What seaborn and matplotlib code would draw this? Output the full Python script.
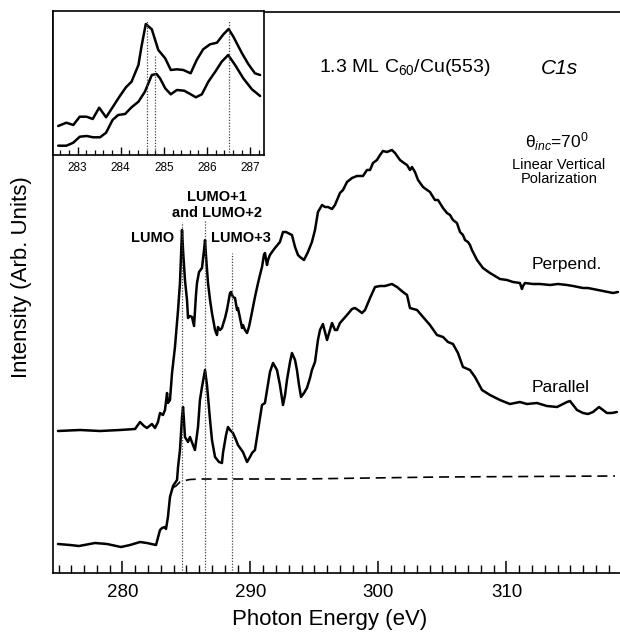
import numpy as np
import pandas as pd
import matplotlib
matplotlib.use("Agg")
import matplotlib.pyplot as plt
from matplotlib.ticker import MultipleLocator
import seaborn as sns

sns.set_theme(style="white", context="paper")
plt.rcParams['font.family'] = ['Liberation Sans', 'DejaVu Sans']
plt.rcParams['mathtext.fontset'] = 'custom'
plt.rcParams['mathtext.rm'] = 'Liberation Sans'
plt.rcParams['mathtext.it'] = 'Liberation Sans:italic'
plt.rcParams['mathtext.bf'] = 'Liberation Sans:bold'
plt.rcParams.update({'text.color': 'black', 'axes.labelcolor': 'black',
                     'xtick.color': 'black', 'ytick.color': 'black'})

# ---- main spectra (photon energy in eV, intensity in arb. units) ----
perp_ev = [274.96, 276.68, 278.24, 279.80, 280.98, 281.37, 281.68, 281.91, 282.30, 282.54,
           282.77, 282.93, 283.16, 283.32, 283.48, 283.55, 283.71, 283.87, 284.10, 284.34,
           284.49, 284.65, 284.73, 284.88, 285.04, 285.12, 285.27, 285.43, 285.59, 285.74,
           285.82, 285.98, 286.21, 286.37, 286.45, 286.52, 286.68, 286.84, 286.99, 287.23,
           287.38, 287.46, 287.62, 287.77, 288.01, 288.16, 288.40, 288.48, 288.63, 288.79,
           288.95, 289.02, 289.18, 289.34, 289.41, 289.57, 289.73, 289.88, 290.12, 290.35,
           290.59, 290.74, 290.90, 291.05, 291.13, 291.29, 291.37, 291.52, 291.68, 291.91,
           292.30, 292.54, 292.77, 293.09, 293.24, 293.48, 293.71, 293.87, 294.18, 294.49,
           294.80, 295.04, 295.27, 295.59, 295.82, 296.05, 296.37, 296.60, 296.99, 297.23,
           297.54, 297.93, 298.32, 298.79, 299.10, 299.34, 299.57, 299.88, 300.12, 300.35,
           300.66, 301.05, 301.29, 301.68, 301.99, 302.23, 302.46, 302.62, 302.85, 303.09,
           303.48, 304.02, 304.41, 304.65, 304.80, 305.04, 305.35, 305.59, 305.82, 306.13,
           306.37, 306.60, 306.76, 306.99, 307.15, 307.30, 307.70, 308.16, 308.71, 309.49,
           310.04, 310.51, 311.05, 311.21, 311.29, 311.45, 312.07, 312.62, 313.40, 314.02,
           314.73, 315.20, 315.59, 315.98, 316.37, 316.76, 317.15, 317.54, 317.93, 318.32,
           318.71]
perp_int = [142, 143, 142, 143, 144, 151, 147, 145, 149, 145,
            151, 160, 158, 163, 180, 170, 173, 200, 226, 263,
            290, 343, 323, 293, 273, 255, 257, 256, 247, 278,
            290, 301, 305, 323, 333, 318, 290, 273, 260, 243,
            238, 246, 243, 245, 255, 263, 280, 281, 276, 275,
            263, 265, 255, 245, 248, 243, 240, 246, 261, 276,
            290, 298, 306, 318, 320, 308, 313, 318, 321, 325,
            331, 341, 341, 339, 338, 326, 318, 316, 313, 321,
            331, 343, 361, 368, 366, 366, 364, 368, 380, 383,
            391, 395, 397, 397, 403, 403, 410, 413, 418, 422,
            421, 423, 420, 413, 410, 408, 403, 406, 401, 393,
            386, 381, 373, 373, 370, 365, 360, 358, 353, 350,
            341, 338, 333, 331, 328, 323, 313, 305, 300, 294,
            293, 291, 290, 284, 287, 290, 289, 289, 288, 289,
            288, 287, 286, 285, 285, 284, 283, 282, 281, 280,
            281]

par_ev = [274.96, 275.90, 276.60, 277.85, 278.79, 279.88, 280.59, 281.37, 281.91, 282.62,
          282.93, 283.09, 283.32, 283.40, 283.55, 283.71, 283.95, 284.26, 284.34, 284.49,
          284.65, 284.73, 284.80, 284.88, 285.12, 285.27, 285.51, 285.66, 285.90, 286.05,
          286.21, 286.45, 286.60, 286.84, 286.99, 287.23, 287.54, 287.77, 287.85, 288.09,
          288.24, 288.40, 288.55, 288.63, 288.87, 289.02, 289.41, 289.73, 289.96, 290.12,
          290.35, 290.59, 290.74, 290.90, 291.13, 291.29, 291.52, 291.76, 292.07, 292.30,
          292.54, 292.70, 292.85, 293.09, 293.24, 293.48, 293.63, 293.79, 293.95, 294.18,
          294.41, 294.65, 294.80, 295.04, 295.27, 295.43, 295.66, 295.82, 295.98, 296.21,
          296.37, 296.60, 296.76, 296.99, 297.54, 297.93, 298.16, 298.40, 298.71, 298.95,
          299.34, 299.73, 300.12, 300.51, 301.05, 301.45, 301.91, 302.23, 302.46, 303.01,
          303.48, 304.02, 304.57, 305.04, 305.43, 305.82, 306.21, 306.60, 307.15, 307.54,
          308.09, 308.71, 309.49, 310.27, 311.05, 311.60, 312.38, 313.16, 313.95, 314.41,
          314.73, 314.96, 315.20, 315.51, 315.98, 316.37, 316.76, 317.23, 317.54, 317.85,
          318.24, 318.63]
par_int = [29, 28, 27, 30, 29, 26, 28, 31, 30, 28,
           43, 45, 46, 44, 56, 76, 87, 93, 106, 123,
           156, 166, 153, 136, 131, 136, 128, 123, 146, 173,
           186, 203, 188, 153, 133, 116, 111, 110, 120, 138,
           146, 143, 141, 140, 133, 128, 121, 111, 116, 120,
           123, 143, 155, 168, 170, 183, 201, 210, 203, 188,
           168, 178, 193, 211, 220, 213, 203, 188, 176, 180,
           185, 195, 203, 211, 233, 243, 249, 241, 233, 243,
           250, 243, 243, 250, 258, 264, 265, 263, 260, 263,
           275, 286, 287, 287, 289, 286, 281, 278, 265, 263,
           256, 248, 238, 236, 231, 229, 220, 206, 203, 196,
           183, 178, 173, 169, 171, 169, 170, 167, 166, 169,
           171, 172, 168, 163, 160, 159, 161, 166, 163, 160,
           160, 161]

# step-edge background
bg_ev = [283.90, 284.18, 284.49, 284.88, 285.27, 286.05, 287.62, 293.87, 304.80, 318.48]
bg_int = [85, 87, 91, 92.5, 93.5, 94, 94, 94, 96, 97]

# resonance markers
peak_ev = [284.65, 286.45, 288.58]
peak_top = [351, 353, 320]

# ---- inset (zoom on the LUMO region) ----
in_perp_ev = [282.55, 282.74, 282.90, 283.05, 283.21, 283.35, 283.50, 283.66, 283.83, 283.98,
              284.12, 284.25, 284.41, 284.48, 284.58, 284.72, 284.87, 285.03, 285.16, 285.30,
              285.45, 285.62, 285.76, 285.91, 286.07, 286.23, 286.38, 286.50, 286.61, 286.81,
              286.96, 287.11, 287.23]
in_perp_int = [29, 32.3, 30, 38.3, 38.3, 36, 47.3, 37.7, 49, 59,
               67.7, 73.3, 90, 108.3, 131, 125.7, 105, 96.7, 85, 85.7,
               85, 81.7, 95, 105.7, 110.7, 112.3, 120.7, 126, 118.3, 101.7,
               90.7, 81.7, 80]
in_par_ev = [282.55, 282.74, 282.90, 283.05, 283.21, 283.36, 283.52, 283.66, 283.81, 283.94,
             284.10, 284.25, 284.41, 284.56, 284.72, 284.83, 284.91, 285.03, 285.16, 285.30,
             285.47, 285.61, 285.74, 285.88, 286.03, 286.19, 286.34, 286.49, 286.65, 286.84,
             287.04, 287.23]
in_par_int = [9.3, 9.3, 12.3, 18.3, 19, 17.7, 17.7, 22.3, 35, 40,
              41, 47.7, 53.3, 63.3, 80, 81, 76.7, 66.7, 60.7, 65,
              64.3, 61, 57.7, 60.7, 73.3, 83.3, 93.3, 100, 90, 76.7,
              65.7, 59]
in_peak_ev = [284.62, 284.80, 286.50]
in_peak_top = [134, 99, 134]

W, H = 620, 632
fig = plt.figure(figsize=(W / 100, H / 100), dpi=100)
ax = fig.add_axes([53 / W, 1 - 573 / H, 1 - 53 / W, 561 / H])

sns.lineplot(x=perp_ev, y=perp_int, ax=ax, color='black', lw=1.8, estimator=None, sort=False)
sns.lineplot(x=par_ev, y=par_int, ax=ax, color='black', lw=1.8, estimator=None, sort=False)
sns.lineplot(x=bg_ev, y=bg_int, ax=ax, color='black', lw=1.2, estimator=None, sort=False,
             linestyle=(0, (6, 3.5)))
ax.vlines(peak_ev, 0, peak_top, colors='#444444', linestyles=(0, (1, 1.3)), lw=0.9)

ax.set_xlim(274.57, 318.87)
ax.set_ylim(0, 561)
ax.set_yticks([])
ax.xaxis.set_major_locator(MultipleLocator(10))
ax.xaxis.set_minor_locator(MultipleLocator(1))
ax.tick_params(axis='x', which='major', direction='in', length=9, width=1.1,
               labelsize=13.5, pad=8, colors='black')
ax.tick_params(axis='x', which='minor', direction='in', length=5.5, width=1.0)
ax.tick_params(axis='x', which='both', bottom=True, top=False)
for side in ['left', 'bottom', 'top']:
    ax.spines[side].set_color('black')
    ax.spines[side].set_linewidth(1.2)
ax.spines['right'].set_visible(False)

fig.text(22 / W, 1 - 277 / H, 'Intensity (Arb. Units)', rotation=90,
         ha='center', va='center', fontsize=16)
fig.text(330 / W, 1 - 620 / H, 'Photon Energy (eV)', ha='center', va='center', fontsize=16)

ax.text(302.03, 505, '1.3 ML C$_{60}$/Cu(553)', ha='center', va='center', fontsize=14)
ax.text(314.14, 505, 'C1s', ha='center', va='center', fontsize=15, style='italic')
ax.text(313.95, 431, 'θ$_{inc}$=70$^{0}$', ha='center', va='center', fontsize=12.5)
ax.text(314.1, 401, 'Linear Vertical\nPolarization', ha='center', va='center',
        fontsize=10.5, linespacing=1.05)
ax.text(314.73, 309, 'Perpend.', ha='center', va='center', fontsize=12.5)
ax.text(314.26, 185, 'Parallel', ha='center', va='center', fontsize=12.5)
ax.text(282.38, 335, 'LUMO', ha='center', va='center', fontsize=10.5, fontweight='bold')
ax.text(287.38, 368, 'LUMO+1\nand LUMO+2', ha='center', va='center', fontsize=10.5,
        fontweight='bold', linespacing=1.1)
ax.text(289.26, 335, 'LUMO+3', ha='center', va='center', fontsize=10.5, fontweight='bold')

# inset
axin = fig.add_axes([53 / W, 1 - 155 / H, 211 / W, 144 / H])
axin.set_facecolor('white')
sns.lineplot(x=in_perp_ev, y=in_perp_int, ax=axin, color='black', lw=1.8, estimator=None, sort=False)
sns.lineplot(x=in_par_ev, y=in_par_int, ax=axin, color='black', lw=1.8, estimator=None, sort=False)
axin.vlines(in_peak_ev, 0, in_peak_top, colors='#444444', linestyles=(0, (1, 1.3)), lw=0.9)
axin.set_xlim(282.43, 287.32)
axin.set_ylim(0, 144)
axin.set_yticks([])
axin.xaxis.set_major_locator(MultipleLocator(1))
axin.xaxis.set_minor_locator(MultipleLocator(0.2))
axin.tick_params(axis='x', which='major', direction='in', length=6, width=1.0,
                 labelsize=8.5, pad=5, colors='black')
axin.tick_params(axis='x', which='minor', direction='in', length=3.5, width=0.9)
axin.tick_params(axis='x', which='both', bottom=True, top=False)
for side in axin.spines.values():
    side.set_color('black')
    side.set_linewidth(1.2)

fig.savefig('out.png', dpi=100)
